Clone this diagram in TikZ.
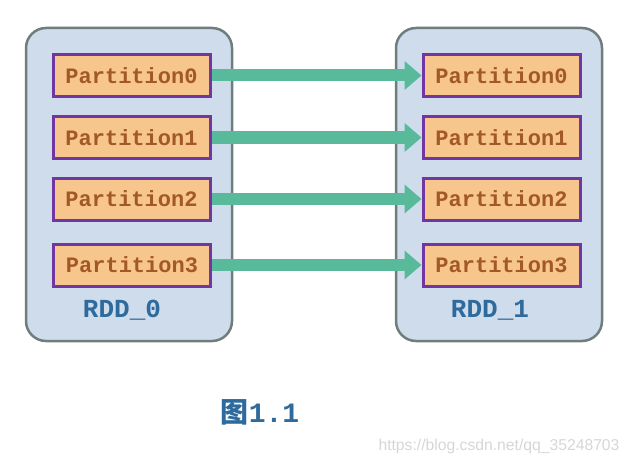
\documentclass[tikz,border=0pt]{standalone}
\usepackage{fontspec}
\setmonofont{Liberation Mono}
\setsansfont{Liberation Sans}
\newfontfamily\cjk{Noto Sans CJK SC}
\usetikzlibrary{arrows.meta}

\definecolor{rddfill}{HTML}{CFDCEC}
\definecolor{rddline}{HTML}{6F7D7D}
\definecolor{partfill}{HTML}{F7C68C}
\definecolor{partline}{HTML}{7236A0}
\definecolor{parttext}{HTML}{A3582A}
\definecolor{labeltext}{HTML}{2F6A9C}
\definecolor{flowcol}{HTML}{58BA9A}
\definecolor{marktext}{HTML}{D6D6D6}

\tikzset{
  rdd/.style={draw=rddline, fill=rddfill, line width=2.5pt, rounded corners=20pt,
    minimum width=206pt, minimum height=313pt, inner sep=0pt},
  part/.style={draw=partline, fill=partfill, line width=3pt, minimum width=157pt,
    minimum height=42pt, inner sep=0pt, text=parttext,
    font=\ttfamily\bfseries\fontsize{22}{22}\selectfont},
  rddlabel/.style={text=labeltext, font=\ttfamily\bfseries\fontsize{26}{26}\selectfont},
  flow/.style={draw=flowcol, line width=12pt, -{Triangle[width=28pt,length=17pt]}}
}

\begin{document}
\begin{tikzpicture}[x=1pt, y=-1pt]
  \useasboundingbox (0,0) rectangle (630,460);

  \node[rdd] (rdd0) at (129,184.5) {};
  \node[rdd] (rdd1) at (499,184.5) {};

  \node[part] (p0l) at (131.5,75.5) {Partition0};
  \node[part] (p1l) at (131.5,137.5) {Partition1};
  \node[part] (p2l) at (131.5,199) {Partition2};
  \node[part] (p3l) at (132,265) {Partition3};

  \node[part] (p0r) at (501.5,75.5) {Partition0};
  \node[part] (p1r) at (501.5,137.5) {Partition1};
  \node[part] (p2r) at (501.5,199) {Partition2};
  \node[part] (p3r) at (501.5,265) {Partition3};

  \node[rddlabel] (l0) at (122,310) {RDD\_0};
  \node[rddlabel] (l1) at (490,310) {RDD\_1};

  \draw[flow] (p0l) -- (p0r);
  \draw[flow] (p1l) -- (p1r);
  \draw[flow] (p2l) -- (p2r);
  \draw[flow] (p3l) -- (p3r);

  \node[text=labeltext, font=\bfseries\fontsize{28}{28}\selectfont] (fig) at (260,412)
    {{\cjk 图}{\ttfamily 1.1}};
  \node[text=marktext, font=\sffamily\fontsize{15.7}{15.7}\selectfont] (mark) at (499,446)
    {https://blog.csdn.net/qq\_35248703};
\end{tikzpicture}
\end{document}
